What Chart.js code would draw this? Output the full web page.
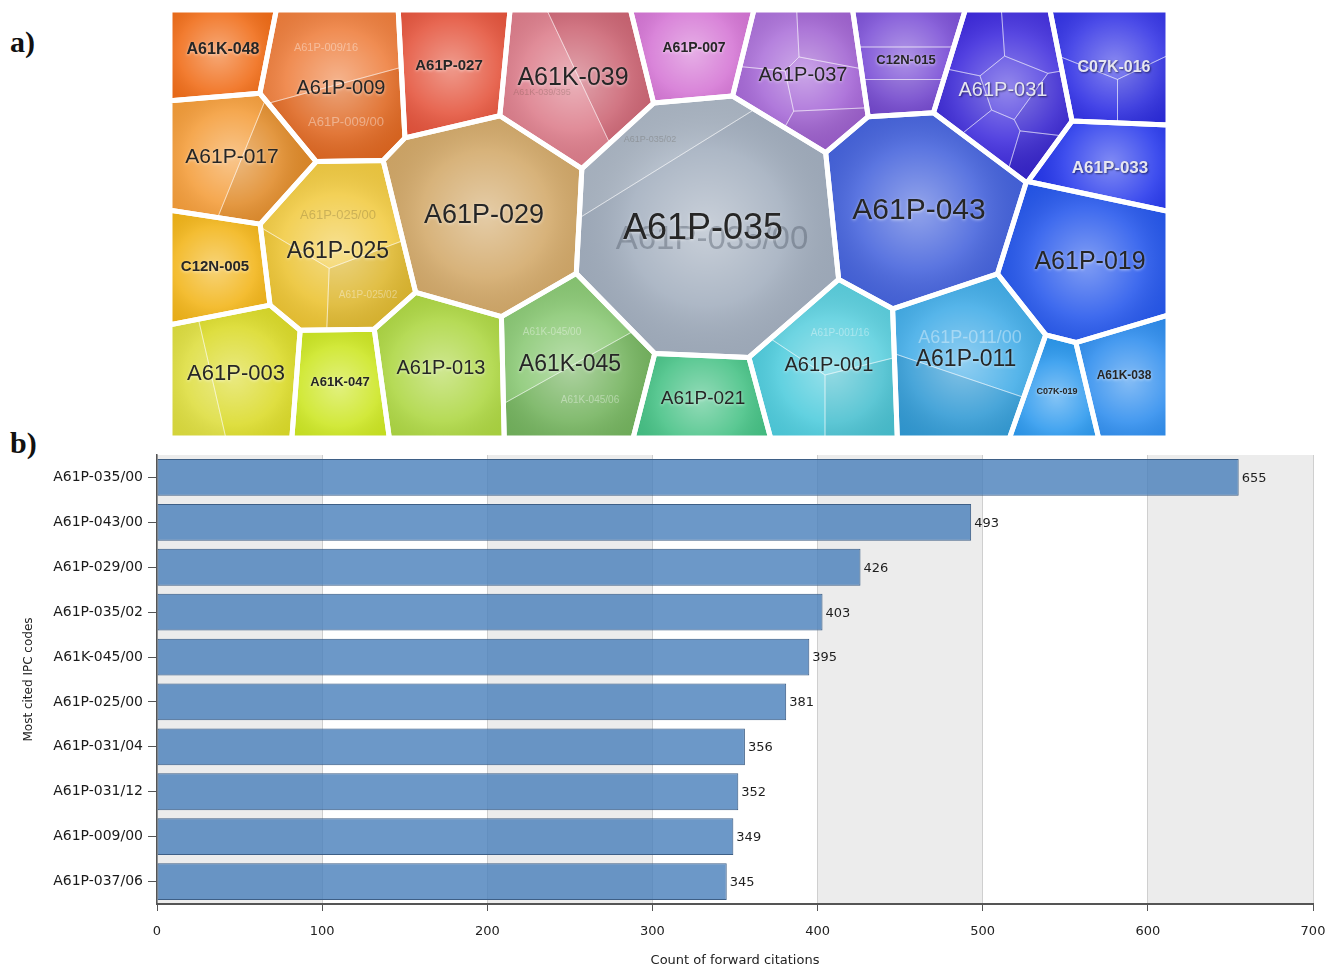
<!DOCTYPE html>
<html>
<head>
<meta charset="utf-8">
<title>IPC codes – Voronoi treemap and forward citations</title>
<script src="https://cdn.jsdelivr.net/npm/chart.js@4.4.1/dist/chart.umd.min.js"></script>
<style>
  html, body { margin: 0; padding: 0; background: #fff; }
  body { width: 1325px; height: 967px; position: relative; overflow: hidden; }
  .panel-tag { position: absolute; font: bold 30px 'Liberation Serif', 'DejaVu Serif', serif; line-height: 30px; color: #111; }
  #mapBox { position: absolute; left: 170px; top: 10px; width: 998px; height: 428px; }
  #barBox { position: absolute; left: 0; top: 440px; width: 1325px; height: 528px; }
</style>
</head>
<body>
<div class="panel-tag" style="left:10px; top:27px;">a)</div>
<div class="panel-tag" style="left:10px; top:428px;">b)</div>
<div id="mapBox"><canvas id="map"></canvas></div>
<div id="barBox"><canvas id="bars"></canvas></div>

<script>
// ---------- Panel b data: most cited IPC codes ----------
const ipcCodes = ['A61P-035/00', 'A61P-043/00', 'A61P-029/00', 'A61P-035/02', 'A61K-045/00',
                  'A61P-025/00', 'A61P-031/04', 'A61P-031/12', 'A61P-009/00', 'A61P-037/06'];
const citationCounts = [655, 493, 426, 403, 395, 381, 356, 352, 349, 345];
const citationTicks = [0, 100, 200, 300, 400, 500, 600, 700];

// ---------- Panel a data: IPC groups of the Voronoi treemap ----------
const groupCodes = ['A61K-048', 'A61P-009', 'A61P-027', 'A61K-039', 'A61P-007', 'A61P-037', 'C12N-015',
                    'A61P-031', 'C07K-016', 'A61P-033', 'A61P-017', 'A61P-029', 'A61P-035', 'A61P-043',
                    'A61P-019', 'C12N-005', 'A61P-025', 'A61P-003', 'A61K-047', 'A61P-013', 'A61K-045',
                    'A61P-021', 'A61P-001', 'A61P-011', 'C07K-019', 'A61K-038'];

// Treemap layout seeds (site and weight radius of each power-diagram cell, in layout units)
const seedX = [53, 165, 279, 403, 524, 633, 736, 833, 944, 940, 62, 314, 540, 745, 920, 45, 168, 66, 170, 271, 400, 533, 659, 796, 887, 954];
const seedY = [40, 62, 56, 68, 38, 65, 50, 80, 58, 158, 147, 206, 218, 197, 252, 257, 242, 364, 372, 358, 355, 389, 355, 350, 382, 366];
const seedR = [42, 68, 50, 65, 42, 58, 45, 62, 52, 42, 58, 88, 126, 88, 72, 44, 70, 58, 40, 60, 66, 38, 64, 70, 36, 44];

// Sub-groups nested inside some cells (site, weight radius, tint, optional faint label)
const subSeeds = [
  { parent: 'A61P-009', x: 156, y: 38,  r: 20, shade: 0.12,  label: 'A61P-009/16', px: 11, tone: 'l' },
  { parent: 'A61P-009', x: 176, y: 112, r: 20, shade: -0.06, label: 'A61P-009/00', px: 13, tone: 'l' },
  { parent: 'A61K-039', x: 372, y: 83,  r: 20, shade: 0.12,  label: 'A61K-039/395', px: 9, tone: 'd' },
  { parent: 'A61K-039', x: 444, y: 49,  r: 20, shade: -0.06 },
  { parent: 'A61P-017', x: 34,  y: 135, r: 20, shade: 0.06 },
  { parent: 'A61P-017', x: 108, y: 165, r: 20, shade: -0.08 },
  { parent: 'A61P-035', x: 480, y: 130, r: 33, shade: 0.10,  label: 'A61P-035/02', px: 9, tone: 'd' },
  { parent: 'A61P-035', x: 542, y: 230, r: 90, shade: 0,     label: 'A61P-035/00', px: 33, tone: 'D' },
  { parent: 'A61P-025', x: 168, y: 205, r: 40, shade: 0.08,  label: 'A61P-025/00', px: 13, tone: 'd' },
  { parent: 'A61P-025', x: 198, y: 285, r: 30, shade: -0.08, label: 'A61P-025/02', px: 10, tone: 'l' },
  { parent: 'A61P-025', x: 122, y: 282, r: 25, shade: -0.02 },
  { parent: 'A61P-003', x: 3,   y: 377, r: 20, shade: 0.10 },
  { parent: 'A61P-003', x: 81,  y: 359, r: 20, shade: 0 },
  { parent: 'A61K-045', x: 382, y: 322, r: 20, shade: 0.10,  label: 'A61K-045/00', px: 10, tone: 'l' },
  { parent: 'A61K-045', x: 420, y: 390, r: 20, shade: -0.08, label: 'A61K-045/06', px: 10, tone: 'l' },
  { parent: 'A61P-001', x: 670, y: 323, r: 20, shade: 0.08,  label: 'A61P-001/16', px: 10, tone: 'l' },
  { parent: 'A61P-001', x: 622, y: 395, r: 20, shade: 0 },
  { parent: 'A61P-001', x: 688, y: 395, r: 20, shade: -0.06 },
  { parent: 'A61P-011', x: 800, y: 328, r: 20, shade: 0.06,  label: 'A61P-011/00', px: 18, tone: 'l' },
  { parent: 'A61P-011', x: 775, y: 402, r: 20, shade: -0.08 },
  { parent: 'A61P-037', x: 598, y: 28,  r: 20, shade: 0.08 },
  { parent: 'A61P-037', x: 658, y: 25,  r: 20, shade: -0.02 },
  { parent: 'A61P-037', x: 592, y: 90,  r: 20, shade: 0.02 },
  { parent: 'A61P-037', x: 648, y: 78,  r: 20, shade: 0 },
  { parent: 'A61P-037', x: 650, y: 122, r: 20, shade: -0.05 },
  { parent: 'A61P-031', x: 805, y: 32,  r: 20, shade: 0 },
  { parent: 'A61P-031', x: 862, y: 28,  r: 20, shade: 0.04 },
  { parent: 'A61P-031', x: 792, y: 95,  r: 20, shade: -0.04 },
  { parent: 'A61P-031', x: 842, y: 78,  r: 20, shade: 0.06 },
  { parent: 'A61P-031', x: 875, y: 102, r: 20, shade: -0.06 },
  { parent: 'A61P-031', x: 820, y: 130, r: 20, shade: 0.02 },
  { parent: 'A61P-031', x: 870, y: 145, r: 20, shade: -0.08 },
  { parent: 'C07K-016', x: 945, y: 32,  r: 20, shade: 0.04 },
  { parent: 'C07K-016', x: 920, y: 95,  r: 20, shade: 0 },
  { parent: 'C07K-016', x: 975, y: 95,  r: 20, shade: -0.04 },
  { parent: 'C12N-015', x: 736, y: 21,  r: 20, shade: 0.05 },
  { parent: 'C12N-015', x: 736, y: 53,  r: 20, shade: 0 },
  { parent: 'C12N-015', x: 736, y: 86,  r: 20, shade: -0.04 }
];

// Cell colour, label size, weight, text tone and label nudge
const groupStyle = {
  'A61K-048': { color: '#f06a14', px: 16, bold: true },
  'A61P-009': { color: '#ec6c20', px: 20, dx: 6, dy: 16 },
  'A61P-027': { color: '#e4523a', px: 15, bold: true },
  'A61K-039': { color: '#d86a7a', px: 25 },
  'A61P-007': { color: '#d474d4', px: 14, bold: true },
  'A61P-037': { color: '#a464d6', px: 20 },
  'C12N-015': { color: '#7446d4', px: 13, bold: true },
  'A61P-031': { color: '#3a26dc', px: 20, light: true },
  'C07K-016': { color: '#2a2ae4', px: 16, bold: true, light: true },
  'A61P-033': { color: '#2436ec', px: 17, bold: true, light: true },
  'A61P-017': { color: '#f4962c', px: 21 },
  'A61P-029': { color: '#d2a868', px: 27 },
  'A61P-035': { color: '#a2aebe', px: 36, dx: -7, dy: 1 },
  'A61P-043': { color: '#4462dc', px: 30, dx: 4, dy: 4 },
  'A61P-019': { color: '#2456ec', px: 25 },
  'C12N-005': { color: '#f2b416', px: 15, bold: true },
  'A61P-025': { color: '#f0c630', px: 23 },
  'A61P-003': { color: '#dada26', px: 22 },
  'A61K-047': { color: '#cce620', px: 13, bold: true },
  'A61P-013': { color: '#acd640', px: 20 },
  'A61K-045': { color: '#7cc264', px: 23 },
  'A61P-021': { color: '#44c184', px: 19 },
  'A61P-001': { color: '#4ccbdc', px: 20 },
  'A61P-011': { color: '#34a6e6', px: 23 },
  'C07K-019': { color: '#2a98ee', px: 9, bold: true },
  'A61K-038': { color: '#2c8cee', px: 12, bold: true }
};

// ---------- power-diagram geometry ----------
const sq = v => v * v;

// keep the part of a polygon where a*x + b*y <= c
function clipHalfPlane(poly, a, b, c) {
  const out = [];
  for (let i = 0; i < poly.length; i++) {
    const p = poly[i], q = poly[(i + 1) % poly.length];
    const fp = a * p[0] + b * p[1] - c, fq = a * q[0] + b * q[1] - c;
    if (fp <= 0) out.push(p);
    if ((fp < 0 && fq > 0) || (fp > 0 && fq < 0)) {
      const t = fp / (fp - fq);
      out.push([p[0] + t * (q[0] - p[0]), p[1] + t * (q[1] - p[1])]);
    }
  }
  return out;
}

// weighted Voronoi (power) cells of the sites, clipped to a convex region
function powerCells(region, sites) {
  return sites.map((s, i) => {
    let poly = region.slice();
    for (let j = 0; j < sites.length && poly.length; j++) {
      if (j === i) continue;
      const t = sites[j];
      poly = clipHalfPlane(poly, 2 * (t.x - s.x), 2 * (t.y - s.y),
        t.x * t.x + t.y * t.y - s.x * s.x - s.y * s.y - t.w + s.w);
    }
    return poly;
  });
}

function centroid(poly) {
  let a = 0, cx = 0, cy = 0;
  for (let i = 0; i < poly.length; i++) {
    const p = poly[i], q = poly[(i + 1) % poly.length];
    const f = p[0] * q[1] - q[0] * p[1];
    a += f; cx += (p[0] + q[0]) * f; cy += (p[1] + q[1]) * f;
  }
  return a ? [cx / (3 * a), cy / (3 * a)] : poly[0];
}

function tracePoly(ctx, poly) {
  ctx.beginPath();
  poly.forEach((p, i) => i ? ctx.lineTo(p[0], p[1]) : ctx.moveTo(p[0], p[1]));
  ctx.closePath();
}

const LABEL_FONT = "'Liberation Sans', Arial, sans-serif";

const treemapPlugin = {
  id: 'voronoiTreemap',
  afterDatasetsDraw(chart) {
    const { ctx, chartArea: area, scales } = chart;
    const unit = Math.abs(scales.x.getPixelForValue(1) - scales.x.getPixelForValue(0));
    const groupPts = chart.getDatasetMeta(0).data;
    const subPts = chart.getDatasetMeta(1).data;
    const box = [[area.left, area.top], [area.right, area.top], [area.right, area.bottom], [area.left, area.bottom]];
    const sites = groupPts.map((el, i) => ({ x: el.x, y: el.y, w: sq(seedR[i] * unit) }));
    const cells = powerCells(box, sites);
    const subLabels = [];

    ctx.save();
    cells.forEach((poly, i) => {
      if (poly.length < 3) return;
      const code = groupCodes[i];
      const style = groupStyle[code];
      tracePoly(ctx, poly);
      ctx.fillStyle = style.color;
      ctx.fill();

      // nested sub-groups
      const kids = [];
      subSeeds.forEach((s, k) => { if (s.parent === code) kids.push({ s, el: subPts[k] }); });
      let kidCells = [];
      if (kids.length) {
        kidCells = powerCells(poly, kids.map(o => ({ x: o.el.x, y: o.el.y, w: sq(o.s.r * unit) })));
        kidCells.forEach((kp, m) => {
          const sh = kids[m].s.shade;
          if (kp.length < 3 || !sh) return;
          tracePoly(ctx, kp);
          ctx.fillStyle = sh > 0 ? `rgba(255,255,255,${sh})` : `rgba(0,0,0,${-sh})`;
          ctx.fill();
        });
        kids.forEach(o => { if (o.s.label) subLabels.push(o); });
      }

      // soft highlight towards the middle of the cell
      const c = centroid(poly);
      const reach = Math.max(...poly.map(p => Math.hypot(p[0] - c[0], p[1] - c[1])));
      const g = ctx.createRadialGradient(c[0], c[1], 0, c[0], c[1], reach);
      g.addColorStop(0, 'rgba(255,255,255,0.42)');
      g.addColorStop(0.55, 'rgba(255,255,255,0.12)');
      g.addColorStop(1, 'rgba(0,0,0,0.04)');
      tracePoly(ctx, poly);
      ctx.fillStyle = g;
      ctx.fill();

      ctx.lineWidth = 1;
      ctx.strokeStyle = 'rgba(255,255,255,0.4)';
      kidCells.forEach(kp => { if (kp.length > 2) { tracePoly(ctx, kp); ctx.stroke(); } });
    });

    // white gutters between cells
    ctx.lineJoin = 'round';
    ctx.lineWidth = 5;
    ctx.strokeStyle = '#ffffff';
    cells.forEach(poly => { if (poly.length > 2) { tracePoly(ctx, poly); ctx.stroke(); } });

    ctx.textAlign = 'center';
    ctx.textBaseline = 'middle';

    // faint sub-group codes
    subLabels.forEach(o => {
      ctx.font = `${o.s.px}px ${LABEL_FONT}`;
      ctx.fillStyle = o.s.tone === 'D' ? 'rgba(80,90,104,0.42)'
                    : o.s.tone === 'd' ? 'rgba(60,50,30,0.22)' : 'rgba(255,255,255,0.38)';
      ctx.fillText(o.s.label, o.el.x, o.el.y);
    });

    // group codes
    groupPts.forEach((el, i) => {
      const code = groupCodes[i];
      const style = groupStyle[code];
      ctx.font = `${style.bold ? 'bold ' : ''}${style.px}px ${LABEL_FONT}`;
      if (style.light) {
        ctx.shadowColor = 'rgba(0,0,30,0.6)';
        ctx.shadowBlur = 2; ctx.shadowOffsetX = 1; ctx.shadowOffsetY = 1;
        ctx.fillStyle = '#e6e6f0';
      } else {
        ctx.shadowColor = 'rgba(255,255,255,0.55)';
        ctx.shadowBlur = 3; ctx.shadowOffsetX = 0; ctx.shadowOffsetY = 1;
        ctx.fillStyle = '#262626';
      }
      ctx.fillText(code, el.x + (style.dx || 0), el.y + (style.dy || 0));
    });
    ctx.restore();
  }
};

new Chart(document.getElementById('map'), {
  type: 'scatter',
  data: {
    datasets: [
      { data: groupCodes.map((c, i) => ({ x: seedX[i], y: seedY[i] })), pointRadius: 0 },
      { data: subSeeds.map(s => ({ x: s.x, y: s.y })), pointRadius: 0 }
    ]
  },
  options: {
    responsive: true, maintainAspectRatio: false, animation: false,
    layout: { padding: 0 },
    plugins: { legend: { display: false }, tooltip: { enabled: false } },
    scales: {
      x: { type: 'linear', display: false, min: 0, max: 998 },
      y: { type: 'linear', display: false, min: 0, max: 428, reverse: true }
    }
  },
  plugins: [treemapPlugin]
});

// ---------- Panel b: horizontal bar chart ----------
const AXIS_FONT = "'DejaVu Sans', Verdana, sans-serif";

// alternating grey bands behind every other 100-citation interval
const bandPlugin = {
  id: 'bands',
  beforeDraw(chart) {
    const { ctx, chartArea: a, scales: { x } } = chart;
    ctx.save();
    ctx.fillStyle = '#ececec';
    for (let i = 0; i + 1 < citationTicks.length; i += 2) {
      const x0 = x.getPixelForValue(citationTicks[i]);
      const x1 = x.getPixelForValue(citationTicks[i + 1]);
      ctx.fillRect(x0, a.top, x1 - x0, a.bottom - a.top);
    }
    ctx.restore();
  }
};

// count printed at the end of each bar
const valueLabelPlugin = {
  id: 'valueLabels',
  afterDatasetsDraw(chart) {
    const { ctx } = chart;
    ctx.save();
    ctx.font = `13px ${AXIS_FONT}`;
    ctx.fillStyle = '#1e1e1e';
    ctx.textAlign = 'left';
    ctx.textBaseline = 'middle';
    chart.getDatasetMeta(0).data.forEach((bar, i) => {
      ctx.fillText(String(citationCounts[i]), bar.x + 3, bar.y + 1);
    });
    ctx.restore();
  }
};

new Chart(document.getElementById('bars'), {
  type: 'bar',
  data: {
    labels: ipcCodes,
    datasets: [{
      data: citationCounts,
      backgroundColor: 'rgba(71,126,186,0.8)',
      borderColor: '#3e5f86',
      borderWidth: 1,
      borderSkipped: false,
      barPercentage: 0.82,
      categoryPercentage: 1
    }]
  },
  options: {
    indexAxis: 'y',
    responsive: true, maintainAspectRatio: false, animation: false,
    layout: { padding: { left: 20, right: 12, top: 15, bottom: 0 } },
    plugins: { legend: { display: false }, tooltip: { enabled: false } },
    scales: {
      x: {
        type: 'linear', min: 0, max: 700,
        afterBuildTicks: s => { s.ticks = citationTicks.map(v => ({ value: v })); },
        // fixed axis band height; the last tick label may overhang the right margin
        afterFit: s => { s.height = 64; s.paddingRight = 0; },
        grid: { color: '#cfcfcf', tickColor: '#555', tickLength: 7, lineWidth: 1 },
        border: { color: '#555', width: 2 },
        ticks: { font: { family: AXIS_FONT, size: 13 }, color: '#222', padding: 13 },
        title: { display: true, text: 'Count of forward citations', color: '#222',
                 font: { family: AXIS_FONT, size: 13 }, padding: { top: 0, bottom: 0 } }
      },
      y: {
        afterFit: s => { s.width = 137; },
        grid: { display: true, drawOnChartArea: false, offset: false, tickColor: '#555', tickLength: 9 },
        border: { color: '#555', width: 1.5 },
        ticks: { font: { family: AXIS_FONT, size: 14 }, color: '#1a1a1a', padding: 5 },
        title: { display: true, text: 'Most cited IPC codes', color: '#222',
                 font: { family: AXIS_FONT, size: 12 }, padding: { top: 2, bottom: 0 } }
      }
    }
  },
  plugins: [bandPlugin, valueLabelPlugin]
});
</script>
</body>
</html>
